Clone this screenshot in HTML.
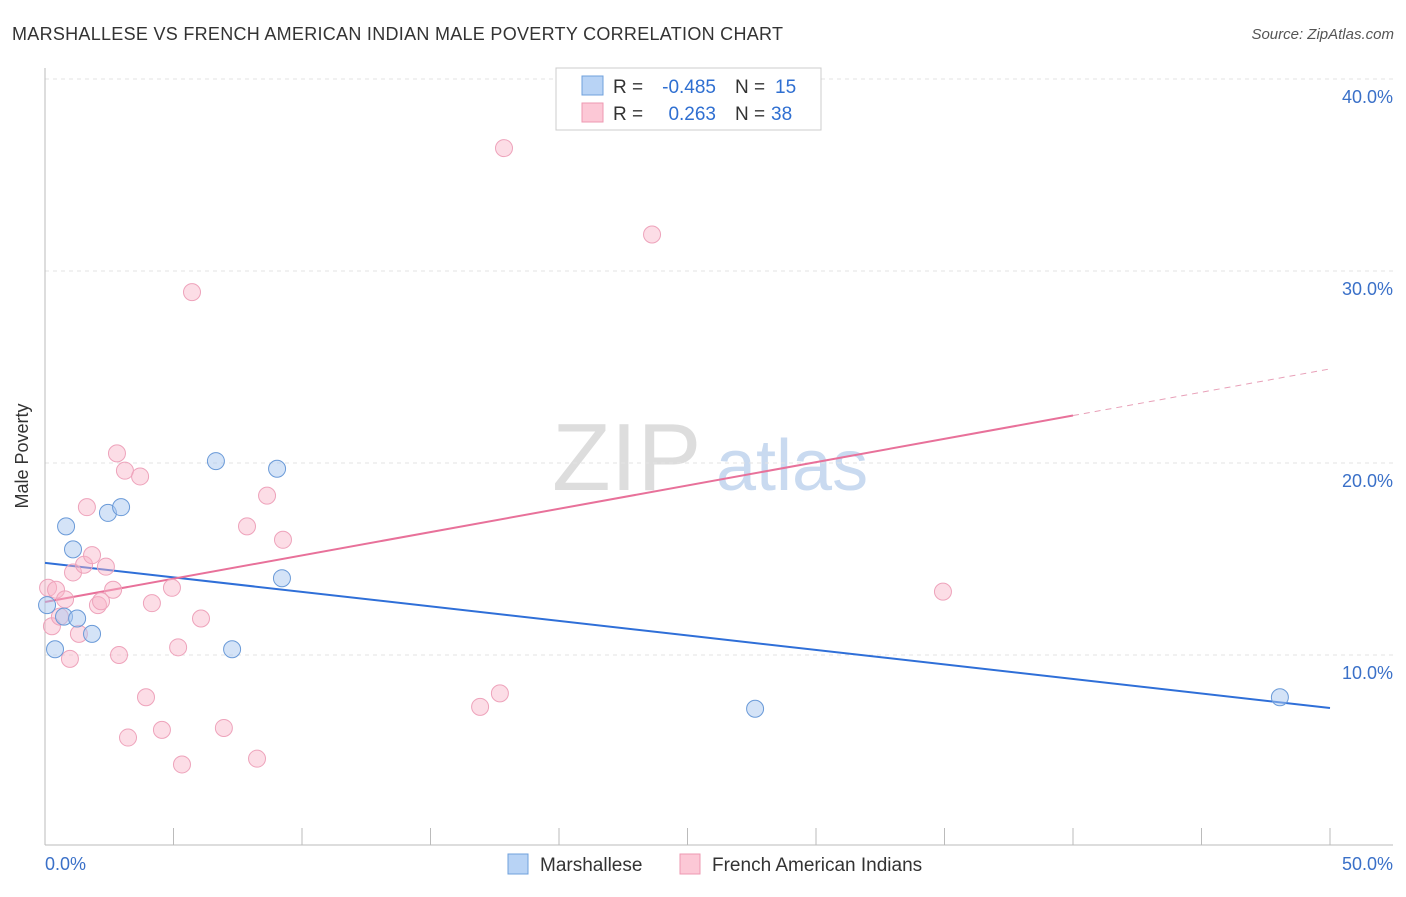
<!DOCTYPE html>
<html><head><meta charset="utf-8"><style>
body{margin:0;background:#fff;font-family:"Liberation Sans",sans-serif;}
svg text{font-family:"Liberation Sans",sans-serif;}
</style></head><body>
<svg id="chart" width="1406" height="892" xmlns="http://www.w3.org/2000/svg">
<text x="12" y="40" font-size="18" fill="#333" textLength="771">MARSHALLESE VS FRENCH AMERICAN INDIAN MALE POVERTY CORRELATION CHART</text>
<text x="1394" y="39" font-size="15" fill="#555" text-anchor="end" font-style="italic">Source: ZipAtlas.com</text>
<g>
<text x="552" y="490" font-size="96" fill="#ddd" font-family="Liberation Serif">ZIP</text>
<text x="716" y="490" font-size="72" fill="#c9daf0">atlas</text>
</g>
<g id="grid"></g><g id="axes"></g><g id="trends"></g><g id="points"></g>
<g>
<rect x="556" y="68" width="265" height="62" fill="#fff" stroke="#ccc"/>
<rect x="582" y="76" width="21" height="19" fill="#b8d3f5" stroke="#6fa0dc"/>
<rect x="582" y="103" width="21" height="19" fill="#fcc8d6" stroke="#ee98b2"/>
<text x="613" y="93" font-size="19" fill="#333">R =</text>
<text x="716" y="93" font-size="19" fill="#2f6fd1" text-anchor="end">-0.485</text>
<text x="735" y="93" font-size="19" fill="#333">N =</text>
<text x="775" y="93" font-size="19" fill="#2f6fd1">15</text>
<text x="613" y="120" font-size="19" fill="#333">R =</text>
<text x="716" y="120" font-size="19" fill="#2f6fd1" text-anchor="end">0.263</text>
<text x="735" y="120" font-size="19" fill="#333">N =</text>
<text x="771" y="120" font-size="19" fill="#2f6fd1">38</text>
</g>
<g>
<rect x="508" y="854" width="20" height="20" fill="#b8d3f5" stroke="#6fa0dc"/>
<text x="540" y="871" font-size="19" fill="#333">Marshallese</text>
<rect x="680" y="854" width="20" height="20" fill="#fcc8d6" stroke="#ee98b2"/>
<text x="712" y="871" font-size="19" fill="#333">French American Indians</text>
</g>
<text x="28" y="456" font-size="18" fill="#333" text-anchor="middle" transform="rotate(-90 28 456)">Male Poverty</text>
</svg>
<script>
const blueX=[0.08,0.39,0.82,1.09,0.74,1.25,1.83,2.45,2.96,6.65,7.28,9.03,9.22,27.63,48.05];
const blueY=[12.6,10.3,16.7,15.5,12.0,11.9,11.1,17.4,17.7,20.1,10.3,19.7,14.0,7.2,7.8];
const pinkX=[0.12,0.27,0.43,0.58,0.78,0.97,1.09,1.32,1.52,1.63,1.83,2.06,2.18,2.37,2.65,2.80,2.88,3.11,3.23,3.70,3.93,4.16,4.55,4.94,5.18,5.33,5.72,6.07,6.96,7.86,8.25,8.64,9.26,16.93,17.70,17.86,23.62,34.94];
const pinkY=[13.5,11.5,13.4,12.0,12.9,9.8,14.3,11.1,14.7,17.7,15.2,12.6,12.8,14.6,13.4,20.5,10.0,19.6,5.7,19.3,7.8,12.7,6.1,13.5,10.4,4.3,28.9,11.9,6.2,16.7,4.6,18.3,16.0,7.3,8.0,36.4,31.9,13.3];
const blueTrend=[14.8,7.24];
const pinkTrend=[12.76,24.9];
const pinkSolidEnd=40;
const yTicks=[10,20,30,40];
const yTickLabels=["10.0%","20.0%","30.0%","40.0%"];
const xTicks=[0,5,10,15,20,25,30,35,40,45,50];
const NS="http://www.w3.org/2000/svg";
const sx=v=>45+v*25.7, sy=v=>847-v*19.2;
function mk(tag,attrs,parent){const e=document.createElementNS(NS,tag);for(const k in attrs)e.setAttribute(k,attrs[k]);document.getElementById(parent).appendChild(e);return e;}
yTicks.forEach((t,i)=>{
 const l=mk('line',{x1:45,x2:1393,y1:sy(t),y2:sy(t),stroke:'#e3e3e3','stroke-dasharray':'4,4'},'grid');
 
 
 const tx=mk('text',{x:1393,y:sy(t)+24,'font-size':18,fill:'#3a70c8','text-anchor':'end'},'grid');
 tx.textContent=yTickLabels[i];
 
 
});
const ya=mk('line',{x1:45,x2:45,y1:68,y2:845,stroke:'#bbb'},'axes');


const xa=mk('line',{x1:45,x2:1393,y1:845,y2:845,stroke:'#bbb'},'axes');


xTicks.forEach(t=>{const l=mk('line',{x1:sx(t),x2:sx(t),y1:828,y2:845,stroke:'#bbb'},'axes');
 
 });
const xl0=mk('text',{x:45,y:870,'font-size':18,fill:'#3a70c8'},'axes');xl0.textContent='0.0%';


const xl1=mk('text',{x:1393,y:870,'font-size':18,fill:'#3a70c8','text-anchor':'end'},'axes');xl1.textContent='50.0%';


const bt=mk('line',{x1:sx(0),y1:sy(blueTrend[0]),x2:sx(50),y2:sy(blueTrend[1]),stroke:'#2f6fd8','stroke-width':2},'trends');


const pAt=x=>pinkTrend[0]+(pinkTrend[1]-pinkTrend[0])*x/50;
const pt=mk('line',{x1:sx(0),y1:sy(pAt(0)),x2:sx(pinkSolidEnd),y2:sy(pAt(pinkSolidEnd)),stroke:'#e8719a','stroke-width':2},'trends');


const pd=mk('line',{x1:sx(pinkSolidEnd),y1:sy(pAt(pinkSolidEnd)),x2:sx(50),y2:sy(pAt(50)),stroke:'#e8a0b8','stroke-width':1,'stroke-dasharray':'6,5'},'trends');


pinkX.forEach((x,i)=>{const c=mk('circle',{cx:sx(x),cy:sy(pinkY[i]),r:8.5,fill:'rgba(248,180,200,0.45)',stroke:'#eea3bb','stroke-width':1},'points');
 
 });
blueX.forEach((x,i)=>{const c=mk('circle',{cx:sx(x),cy:sy(blueY[i]),r:8.5,fill:'rgba(170,200,240,0.5)',stroke:'#6a9ad8','stroke-width':1},'points');
 
 });
</script>
</body></html>
